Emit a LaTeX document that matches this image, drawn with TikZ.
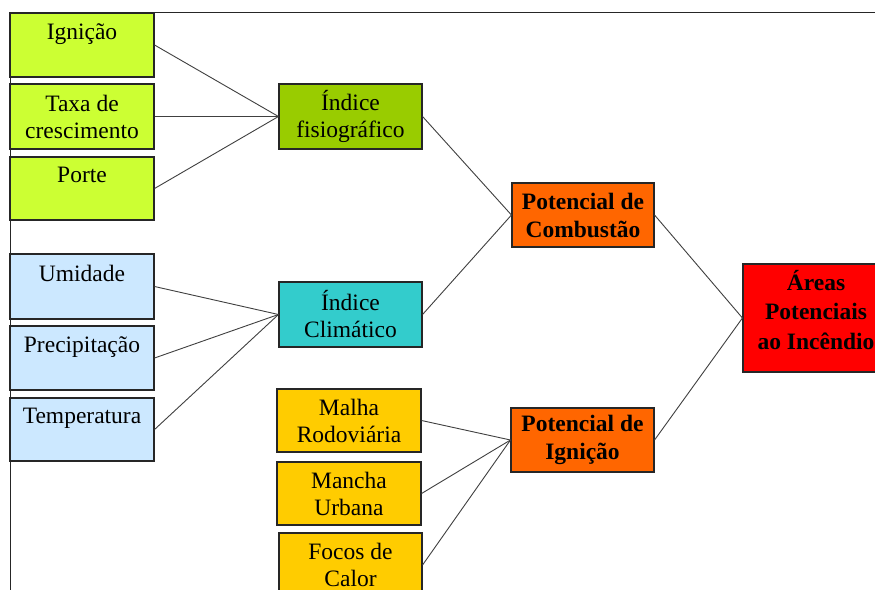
\documentclass[tikz,border=0pt]{standalone}
\usepackage{fontspec}
\setmainfont{Liberation Serif}
\begin{document}
\begin{tikzpicture}[x=1pt,y=-1pt,
  box/.style={draw=black!85, line width=1.1pt, inner sep=0pt, align=center,
    font=\fontsize{23.5}{27}\selectfont, text=black},
  bbox/.style={box, font=\fontsize{23.5}{28}\selectfont\bfseries},
  conn/.style={draw=black!75, line width=0.9pt},
  lime/.style={fill=lime1},
  sky/.style={fill=sky1}]
\definecolor{lime1}{HTML}{CCFF33}
\definecolor{olive1}{HTML}{99CC00}
\definecolor{sky1}{HTML}{CCE8FF}
\definecolor{teal1}{HTML}{33CCCC}
\definecolor{orange1}{HTML}{FF6600}
\definecolor{gold1}{HTML}{FFCC00}
\definecolor{red1}{HTML}{FF0000}
\clip (0,0) rectangle (875,589);
\fill[white] (0,0) rectangle (875,589);
% outer frame
\draw[black!85, line width=1pt] (10,600) -- (10,12) -- (880,12);
% left column
\node[box, lime, minimum width=144pt, minimum height=64pt] (ign) at (82,45) {Igni\c{c}\~ao\\\mbox{}};
\node[box, lime, minimum width=144pt, minimum height=65pt] (taxa) at (82,116.5) {Taxa de\\crescimento};
\node[box, lime, minimum width=144pt, minimum height=63pt] (porte) at (82,188.5) {Porte\\\mbox{}};
\node[box, sky, minimum width=144pt, minimum height=65pt] (umid) at (82,286.5) {Umidade\\\mbox{}};
\node[box, sky, minimum width=144pt, minimum height=64pt] (prec) at (82,358) {Precipita\c{c}\~ao\\\mbox{}};
\node[box, sky, minimum width=144pt, minimum height=63pt] (temp) at (82,429.5) {Temperatura\\\mbox{}};
% middle column
\node[box, fill=olive1, minimum width=143pt, minimum height=65pt] (fisio) at (350.5,116.5) {\'Indice\\fisiogr\'afico};
\node[box, fill=teal1, minimum width=143pt, minimum height=65pt] (clim) at (350.5,314.5) {\'Indice\\Clim\'atico};
\node[box, fill=gold1, minimum width=144pt, minimum height=63pt] (malha) at (349,420.5) {Malha\\Rodovi\'aria};
\node[box, fill=gold1, minimum width=144pt, minimum height=63pt] (mancha) at (349,493.5) {Mancha\\Urbana};
\node[box, fill=gold1, minimum width=143pt, minimum height=64pt] (focos) at (350.5,565) {Focos de\\Calor};
% third column
\node[bbox, fill=orange1, minimum width=142pt, minimum height=64pt] (comb) at (583,215) {Potencial de\\Combust\~ao};
\node[bbox, fill=orange1, minimum width=143pt, minimum height=64pt] (pign) at (582.5,440) {Potencial de\\Igni\c{c}\~ao};
% final
\node[bbox, fill=red1, minimum width=146pt, minimum height=108pt, text depth=17pt,
  font=\fontsize{23.5}{29.5}\selectfont\bfseries] (areas) at (816,318) {\'Areas\\Potenciais\\ao Inc\^endio};
% connectors
\draw[conn] (ign.east) -- (fisio.west);
\draw[conn] (taxa.east) -- (fisio.west);
\draw[conn] (porte.east) -- (fisio.west);
\draw[conn] (umid.east) -- (clim.west);
\draw[conn] (prec.east) -- (clim.west);
\draw[conn] (temp.east) -- (clim.west);
\draw[conn] (fisio.east) -- (comb.west);
\draw[conn] (clim.east) -- (comb.west);
\draw[conn] (malha.east) -- (pign.west);
\draw[conn] (mancha.east) -- (pign.west);
\draw[conn] (focos.east) -- (pign.west);
\draw[conn] (comb.east) -- (areas.west);
\draw[conn] (pign.east) -- (areas.west);
\end{tikzpicture}
\end{document}
